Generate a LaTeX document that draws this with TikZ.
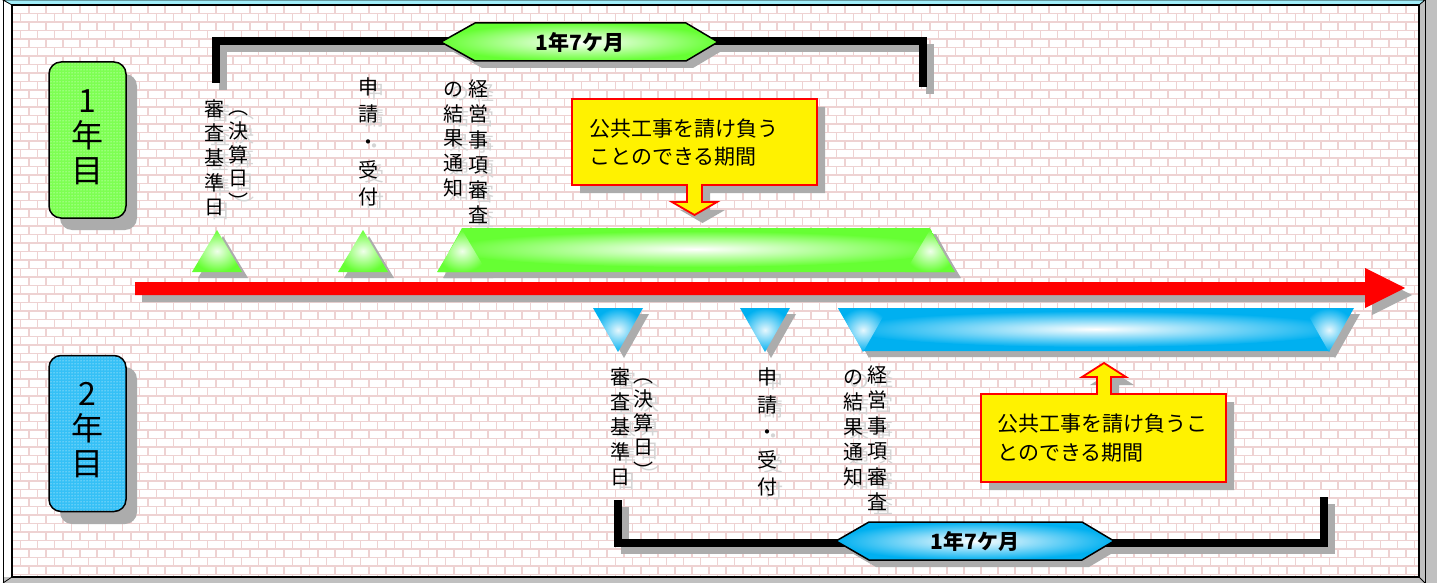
\documentclass[tikz,border=0pt]{standalone}
\usepackage{fontspec}
\setmainfont{Noto Sans CJK JP}
\usetikzlibrary{patterns}
\definecolor{lime}{RGB}{102,255,51}
\definecolor{sky}{RGB}{0,176,240}
\definecolor{skybox}{RGB}{30,185,245}
\definecolor{mortar}{RGB}{238,210,210}
\definecolor{shad}{RGB}{172,172,172}
\definecolor{tshad}{RGB}{212,212,212}
\definecolor{bevelcyan}{RGB}{160,238,250}
\definecolor{bevelgray}{RGB}{192,192,192}
\tikzset{
  vtxt/.style={anchor=base, inner sep=0pt, font=\fontsize{20}{20}\selectfont},
  calltxt/.style={anchor=base west, inner sep=0pt, align=left, font=\fontsize{21}{28.5}\selectfont},
  hextxt/.style={inner sep=0pt, font=\fontsize{21}{21}\selectfont\bfseries},
  yeartxt/.style={inner sep=0pt, align=center, font=\fontsize{32}{35}\selectfont},
  bracket/.style={line width=8pt},
  bracketshadow/.style={line width=8pt, draw=shad},
  callout/.style={fill=yellow, draw=red, line width=1.8pt, line join=miter},
  yearbox/.style={draw, line width=1.5pt, rounded corners=12pt, minimum width=77pt, minimum height=156pt, inner sep=0pt},
}
\newcommand\vcolx[6]{%
  \ifnum#1=0
    \foreach \ch [count=\i from 0] in {#6} {\node[vtxt, text=tshad] (#2s\i) at ({#3+6},{#4+4+\i*#5}) {\ch};}%
  \else
    \foreach \ch [count=\i from 0] in {#6} {\node[vtxt] (#2\i) at (#3,{#4+\i*#5}) {\ch};}%
  \fi}
\newcommand\allcols[1]{%
  \vcolx{#1}{ka}{214}{116.5}{24.5}{審,査,基,準,日}%
  \vcolx{#1}{kb}{238}{115}{23.5}{︵,決,算,日,︶}%
  \vcolx{#1}{kc}{368}{94.5}{27.5}{申,請,・,受,付}%
  \vcolx{#1}{kd}{453}{97}{24.5}{の,結,果,通,知}%
  \vcolx{#1}{ke}{478}{97}{25}{経,営,事,項,審,査}%
  \vcolx{#1}{na}{620}{384.5}{25}{審,査,基,準,日}%
  \vcolx{#1}{nb}{643}{382}{24}{︵,決,算,日,︶}%
  \vcolx{#1}{nc}{767}{384.5}{27.5}{申,請,・,受,付}%
  \vcolx{#1}{nd}{853}{384.5}{25}{の,結,果,通,知}%
  \vcolx{#1}{ne}{877}{382}{25.5}{経,営,事,項,審,査}%
}
\newcommand\gtri[1]{\shade[inner color=lime!10, outer color=lime] (#1-25,272) -- (#1,230) -- (#1+25,272) -- cycle;}
\newcommand\btri[1]{\shade[inner color=sky!10, outer color=sky] (#1-25,308) -- (#1+25,308) -- (#1,352) -- cycle;}
\newcommand\gtrishape[1]{(#1-25,272) -- (#1,230) -- (#1+25,272) -- cycle}
\newcommand\btrishape[1]{(#1-25,308) -- (#1+25,308) -- (#1,352) -- cycle}
\newcommand\redarrowshape{(135,282) -- (1365,282) -- (1365,268) -- (1405,288) -- (1365,308) -- (1365,295) -- (135,295) -- cycle}
\newcommand\gbarshape{(438,272) -- (462,228) -- (930,228) -- (954,272) -- cycle}
\newcommand\bbarshape{(838,308) -- (1353,308) -- (1329,351) -- (863,351) -- cycle}
\newcommand\callAshape{(572,99) -- (817,99) -- (817,185) -- (702,185) -- (702,202) -- (717,202) -- (694.5,215) -- (672,202) -- (687,202) -- (687,185) -- (572,185) -- cycle}
\newcommand\callBshape{(981,394) -- (1097,394) -- (1097,377) -- (1082,377) -- (1104,363) -- (1126,377) -- (1111,377) -- (1111,394) -- (1226,394) -- (1226,482) -- (981,482) -- cycle}
\newcommand\hexAshape{(441,42) -- (475,23) -- (686,23) -- (718,42) -- (686,61) -- (475,61) -- cycle}
\newcommand\hexBshape{(836,541) -- (869,522) -- (1082,522) -- (1114,541) -- (1082,560) -- (869,560) -- cycle}
\begin{document}
\begin{tikzpicture}[x=1pt,y=-1pt]
\useasboundingbox (0,0) rectangle (1437,583);
% ---------- frame ----------
\fill[white] (0,0) rectangle (1437,583);
\fill[bevelgray] (1419,0) rectangle (1437,583);
\fill[bevelgray] (3,577) rectangle (1437,583);
\filldraw[fill=bevelcyan, draw=black, line width=0.8pt] (3,0) -- (1425,0) -- (1419,5) -- (12,5) -- cycle;
\fill[white] (12,5) rectangle (1419,577);
\begin{scope}
  \clip (12,5) rectangle (1419,577);
  \draw[mortar, line width=1.8pt] foreach \r in {0,...,68} { (12,{5+\r*8.5}) -- (1419,{5+\r*8.5}) };
  \draw[mortar, line width=1.8pt] foreach \r in {0,...,67} { foreach \c in {0,...,84} { ({12+\c*17+mod(\r,2)*8.5},{5+\r*8.5}) -- ++(0,8.5) } };
\end{scope}
\draw[line width=1.2pt] (12,5) rectangle (1419,577);
\draw[line width=1pt] (3,0) -- (3,583);
\draw[line width=1pt] (1425,0) -- (1425,583);
\draw[line width=0.8pt] (3,583) -- (12,577);
\draw[line width=0.8pt] (1419,577) -- (1425,583);
% ---------- shadows ----------
\begin{scope}[shift={(7,7)}]
  \draw[bracketshadow] (216,83) -- (216,41) -- (923,41) -- (923,87);
  \draw[bracketshadow] (618,500) -- (618,543) -- (1324,543) -- (1324,497);
  \fill[shad] \hexAshape;
  \fill[shad] \hexBshape;
  \fill[shad] \redarrowshape;
\end{scope}
\begin{scope}[shift={(6,6)}]
  \fill[shad] \gbarshape;
  \fill[shad] \bbarshape;
  \foreach \t in {217,363,462,930} { \fill[shad] \gtrishape{\t}; }
  \foreach \t in {618,765,863,1329} { \fill[shad] \btrishape{\t}; }
\end{scope}
\begin{scope}[shift={(8,8)}]
  \fill[shad] \callAshape;
  \fill[shad] \callBshape;
\end{scope}
\fill[shad, rounded corners=12pt] (60,74) rectangle (137,230);
\fill[shad, rounded corners=12pt] (60,367) rectangle (137,524);
\allcols{0}
% ---------- brackets ----------
\coordinate (a1) at (216,83); \coordinate (a2) at (216,41); \coordinate (a3) at (923,41); \coordinate (a4) at (923,87);
\coordinate (b1) at (618,500); \coordinate (b2) at (618,543); \coordinate (b3) at (1324,543); \coordinate (b4) at (1324,497);
\draw[bracket] (a1) -- (a2) -- (a3) -- (a4);
\draw[bracket] (b1) -- (b2) -- (b3) -- (b4);
\shadedraw[inner color=white, outer color=lime, line width=1.5pt] \hexAshape;
\shadedraw[inner color=white, outer color=sky, line width=1.5pt] \hexBshape;
\node[hextxt] (h1) at (580,42) {1年7ケ月};
\node[hextxt] (h2) at (975,541) {1年7ケ月};
% ---------- year boxes ----------
\node[yearbox, preaction={fill=lime!85!white}, preaction={pattern=dots, pattern color=white}] (box1) at (87.5,140) {};
\node[yearbox, preaction={fill=skybox!90!white}, preaction={pattern=dots, pattern color=white}] (box2) at (87.5,433.5) {};
\node[yeartxt] (y1) at (87.5,137.5) {1\\年\\目};
\node[yeartxt] (y2) at (87.5,430.5) {2\\年\\目};
% ---------- red time arrow ----------
\fill[red] \redarrowshape;
% ---------- bars ----------
\begin{scope}
  \clip \gbarshape;
  \fill[lime] \gbarshape;
  \shade[inner color=white, outer color=lime] (696,249) ellipse (250pt and 18pt);
\end{scope}
\begin{scope}
  \clip \bbarshape;
  \fill[sky] \bbarshape;
  \shade[inner color=white, outer color=sky] (1096,329) ellipse (250pt and 18pt);
\end{scope}
\foreach \t in {217,363,462,930} { \gtri{\t} }
\foreach \t in {618,765,863,1329} { \btri{\t} }
% ---------- callouts ----------
\filldraw[callout] \callAshape;
\filldraw[callout] \callBshape;
\node[calltxt] (c1) at (589,164.5) {公共工事を請け負う\\ことのできる期間};
\node[calltxt] (c2) at (997,460) {公共工事を請け負うこ\\とのできる期間};
% ---------- vertical labels ----------
\allcols{1}
\end{tikzpicture}
\end{document}
